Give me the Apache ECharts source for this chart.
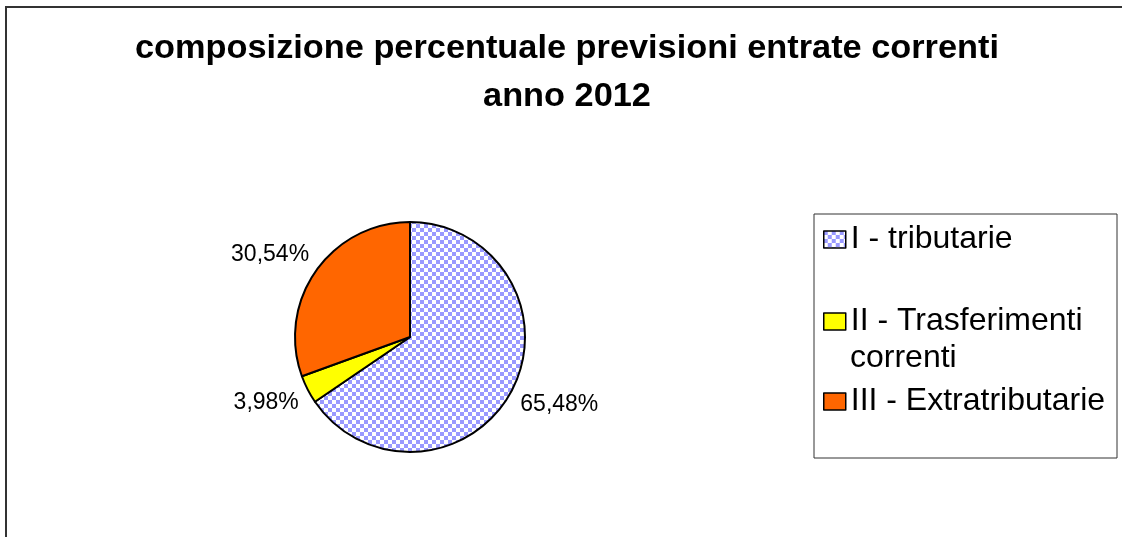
<!DOCTYPE html>
<html>
<head>
<meta charset="utf-8">
<style>
  html, body { margin: 0; padding: 0; background: #fff; }
  #chart { width: 1122px; height: 537px; }
</style>
<script src="https://cdn.jsdelivr.net/npm/echarts@6/dist/echarts.min.js"></script>
</head>
<body>
<div id="chart"></div>
<script>
var categories = ['I - tributarie', 'II - Trasferimenti\ncorrenti', 'III - Extratributarie'];
var shares = [65.48, 3.98, 30.54];
var labels = ['65,48%', '3,98%', '30,54%'];
var titleLines = ['composizione percentuale previsioni entrate correnti', 'anno 2012'];

var FONT = '"Liberation Sans", Arial, sans-serif';

// checkered blue/white fill of the first slice
var checker = document.createElement('canvas');
checker.width = 8;
checker.height = 8;
var ctx = checker.getContext('2d');
ctx.fillStyle = '#ffffff';
ctx.fillRect(0, 0, 8, 8);
ctx.fillStyle = '#9999ff';
ctx.fillRect(0, 0, 4, 4);
ctx.fillRect(4, 4, 4, 4);

var colors = [{ image: checker, repeat: 'repeat' }, '#ffff00', '#ff6600'];

var myChart = echarts.init(document.getElementById('chart'));

var pieData = categories.map(function (name, i) {
  return {
    name: name,
    value: shares[i],
    itemStyle: { color: colors[i] },
    label: { formatter: labels[i] }
  };
});

// one legend per entry so the uneven spacing of the original can be kept;
// only the first line of a wrapped name sits next to the icon
function legendFor(i, top) {
  return {
    data: [categories[i]],
    left: 823,
    top: top,
    padding: 0,
    orient: 'vertical',
    icon: 'rect',
    itemWidth: 22,
    itemHeight: 17,
    itemStyle: { borderColor: '#000', borderWidth: 1.5 },
    formatter: function (name) { return name.split('\n')[0]; },
    textStyle: { fontFamily: FONT, fontSize: 32, color: '#000', lineHeight: 37 },
    selectedMode: false
  };
}

option = {
  animation: false,
  backgroundColor: '#fff',
  graphic: [
    {
      type: 'rect',
      shape: { x: 6, y: 7, width: 1130, height: 545 },
      style: { fill: 'none', stroke: '#333', lineWidth: 2 },
      silent: true
    },
    {
      type: 'rect',
      shape: { x: 814, y: 214, width: 303, height: 244 },
      style: { fill: 'none', stroke: '#333', lineWidth: 1 },
      silent: true
    },
    {
      type: 'text',
      x: 567,
      y: 25,
      scaleX: 1.04,
      style: {
        text: titleLines.join('\n'),
        font: 'bold 33px ' + FONT,
        fill: '#000',
        align: 'center',
        verticalAlign: 'top',
        lineHeight: 48
      },
      silent: true
    },
    {
      type: 'text',
      x: 850,
      y: 358,
      style: {
        text: categories[1].split('\n')[1],
        font: '32px ' + FONT,
        fill: '#000',
        align: 'left',
        verticalAlign: 'middle'
      },
      silent: true
    }
  ],
  legend: [
    legendFor(0, 221),
    legendFor(1, 303),
    legendFor(2, 383)
  ],
  series: [
    {
      name: 'entrate correnti',
      type: 'pie',
      center: [410, 337],
      radius: 115,
      startAngle: 90,
      clockwise: true,
      avoidLabelOverlap: false,
      itemStyle: { borderColor: '#000', borderWidth: 2 },
      label: {
        show: true,
        position: 'outside',
        fontFamily: FONT,
        fontSize: 23,
        color: '#000',
        distanceToLabelLine: -17
      },
      labelLine: { show: false, length: 29, length2: 0 },
      emphasis: { disabled: true },
      data: pieData
    }
  ]
};

myChart.setOption(option);
</script>
</body>
</html>
